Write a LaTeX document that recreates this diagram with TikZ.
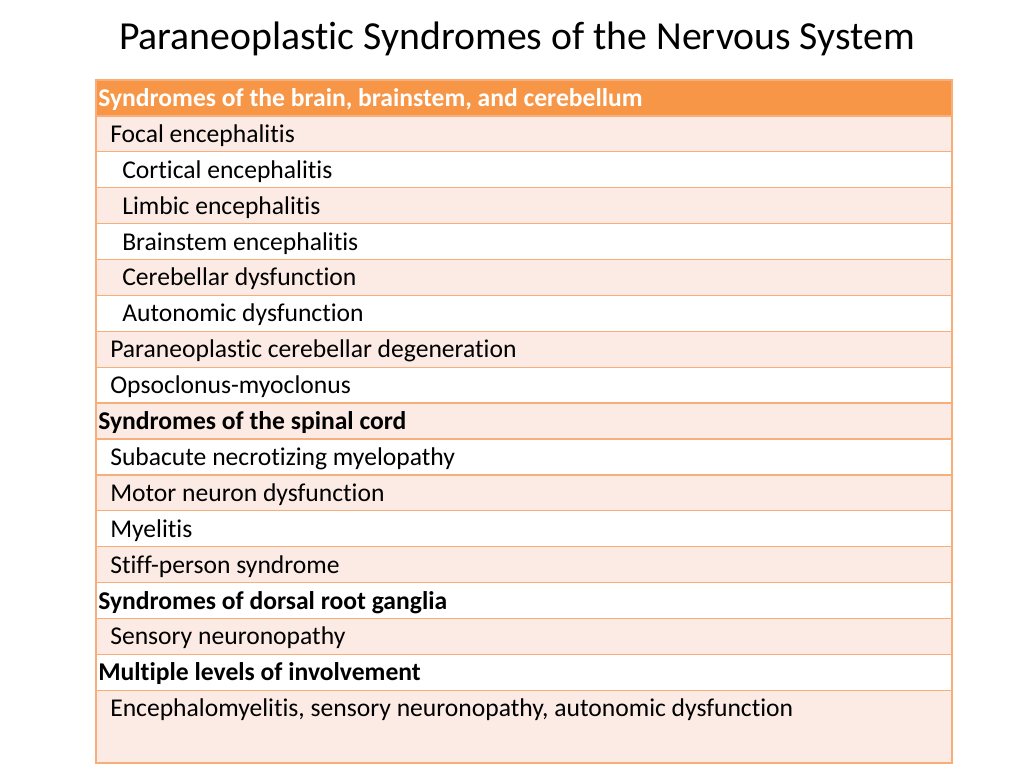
\documentclass[tikz,border=0pt]{standalone}
\usepackage{fontspec}
\setmainfont{Carlito}[Ligatures=NoCommon]
\definecolor{hdrorange}{HTML}{F79646}
\definecolor{rowpink}{HTML}{FCEBE4}
\definecolor{ruleorange}{HTML}{F7AE78}

\begin{document}
\begin{tikzpicture}[x=0.75pt,y=-0.75pt,
  cell/.style={anchor=west,inner sep=0pt,yshift=-1.2pt,font=\fontsize{19.2}{23}\selectfont},
  grp/.style={cell,font=\fontsize{19.2}{23}\selectfont\bfseries},
  rowline/.style={draw=ruleorange,line width=1pt}]
\useasboundingbox (0,0) rectangle (1024,768);
% title
\node[font=\fontsize{29.8}{36}\selectfont] (title) at (517,39) {Paraneoplastic Syndromes of the Nervous System};
% rows
\fill[hdrorange] (96,80) rectangle (952,116);
\foreach \i in {1,3,...,15}
  \fill[rowpink] (96,80+35.9*\i) rectangle (952,80+35.9*\i+35.9);
\fill[rowpink] (96,690.3) rectangle (952,763);
\foreach \i in {1,...,17}
  \draw[rowline] (96,80+35.9*\i) -- (952,80+35.9*\i);
\draw[draw=ruleorange,line width=1.2pt] (96,80) rectangle (952,763);
% header and entries
\node[grp,text=white] (brain) at (98,98) {Syndromes of the brain, brainstem, and cerebellum};
\node[cell] (focal) at (110,133.9) {Focal encephalitis};
\node[cell] (cortical) at (122,169.8) {Cortical encephalitis};
\node[cell] (limbic) at (122,205.7) {Limbic encephalitis};
\node[cell] (brainstem) at (122,241.6) {Brainstem encephalitis};
\node[cell] (cerebellar) at (122,277.5) {Cerebellar dysfunction};
\node[cell] (autonomic) at (122,313.4) {Autonomic dysfunction};
\node[cell] (pcd) at (110,349.3) {Paraneoplastic cerebellar degeneration};
\node[cell] (opso) at (110,385.2) {Opsoclonus-myoclonus};
\node[grp] (spinal) at (98,421.1) {Syndromes of the spinal cord};
\node[cell] (subacute) at (110,457) {Subacute necrotizing myelopathy};
\node[cell] (motor) at (110,492.9) {Motor neuron dysfunction};
\node[cell] (myelitis) at (110,528.8) {Myelitis};
\node[cell] (stiff) at (110,564.7) {Stiff-person syndrome};
\node[grp] (drg) at (98,600.6) {Syndromes of dorsal root ganglia};
\node[cell] (sensory) at (110,636.5) {Sensory neuronopathy};
\node[grp] (multiple) at (98,672.4) {Multiple levels of involvement};
\node[cell] (enceph) at (110,708.3) {Encephalomyelitis, sensory neuronopathy, autonomic dysfunction};
\end{tikzpicture}
\end{document}
